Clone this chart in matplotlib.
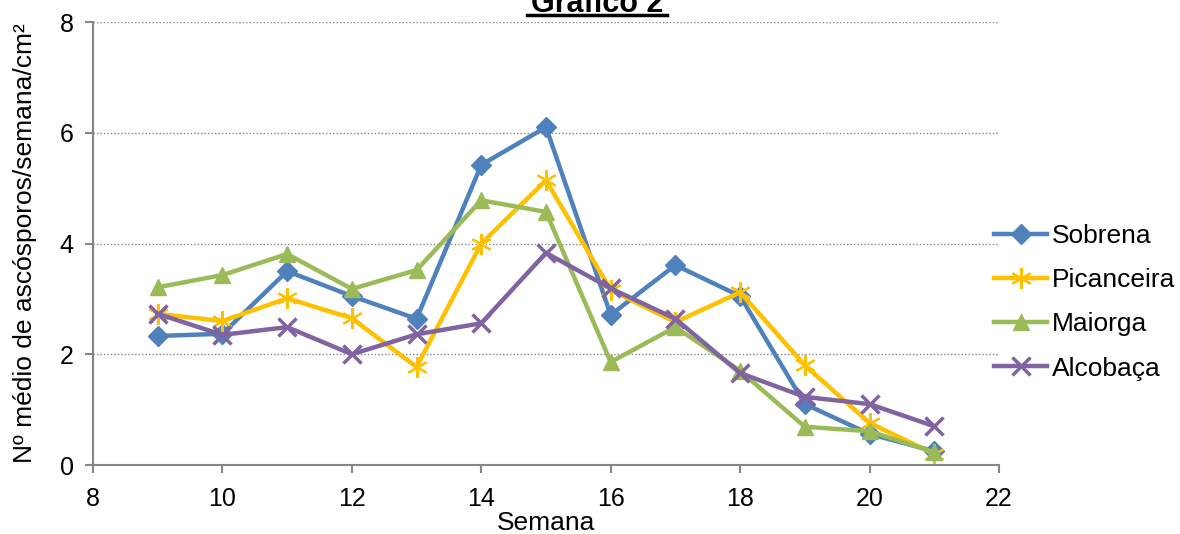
import matplotlib.pyplot as plt
from matplotlib.lines import Line2D

plt.rcParams['font.family'] = ['Liberation Sans', 'DejaVu Sans']

semanas = [9, 10, 11, 12, 13, 14, 15, 16, 17, 18, 19, 20, 21]
sobrena = [2.33, 2.37, 3.5, 3.05, 2.64, 5.42, 6.1, 2.71, 3.61, 3.05, 1.1, 0.56, 0.25]
picanceira = [2.73, 2.6, 3.01, 2.65, 1.77, 4.0, 5.14, 3.16, 2.58, 3.12, 1.8, 0.76, 0.2]
maiorga = [3.21, 3.43, 3.81, 3.18, 3.52, 4.78, 4.57, 1.86, 2.49, 1.7, 0.69, 0.61, 0.23]
alcobaca = [2.73, 2.35, 2.49, 2.0, 2.36, 2.56, 3.83, 3.19, 2.64, 1.66, 1.23, 1.1, 0.7]

fig = plt.figure(figsize=(11.8, 5.34), dpi=100)
ax = fig.add_axes([0.0788, 0.1292, 0.7678, 0.8296])

ax.plot(semanas, sobrena, color='#4F81BD', lw=3.2, marker='D', ms=10, label='Sobrena')
ax.plot(semanas, picanceira, color='#FFC000', lw=3.2, marker=(6, 2, 0), ms=15,
        mew=1.5, label='Picanceira')
ax.plot(semanas, maiorga, color='#9BBB59', lw=3.2, marker='^', ms=12, label='Maiorga')
ax.plot(semanas, alcobaca, color='#8064A2', lw=3.2, marker='x', ms=13, mew=2.5,
        label='Alcobaça')

ax.set_xlim(8, 22)
ax.set_ylim(0, 8)
ax.set_xticks(range(8, 23, 2))
ax.set_yticks(range(0, 9, 2))
for y in [2, 4, 6, 8]:
    ax.axhline(y, color='#868686', lw=1, ls=(0, (1, 1.5)), zorder=0)

for side in ['top', 'right']:
    ax.spines[side].set_visible(False)
for side in ['left', 'bottom']:
    ax.spines[side].set_color('#868686')
    ax.spines[side].set_linewidth(1.5)
ax.tick_params(colors='#868686', labelcolor='black', labelsize=18, length=6, width=1.5)
ax.tick_params(axis='x', pad=10)
ax.tick_params(axis='y', pad=8)

ax.set_xlabel('Semana', fontsize=19, labelpad=0)
ax.set_ylabel('Nº médio de ascósporos/semana/cm²', fontsize=19, labelpad=16)

fig.text(0.506, 0.978, 'Gráfico 2', ha='center', va='baseline', fontsize=22,
         fontweight='bold')
fig.add_artist(Line2D([0.447, 0.565], [0.971, 0.971], color='black', lw=2.5))

fig.legend(loc='center left', bbox_to_anchor=(0.838, 0.434), frameon=False,
           fontsize=19, handlelength=2.0, labelspacing=0.77, handletextpad=0.2,
           borderaxespad=0, borderpad=0.2)

fig.savefig('out.png', dpi=100)
